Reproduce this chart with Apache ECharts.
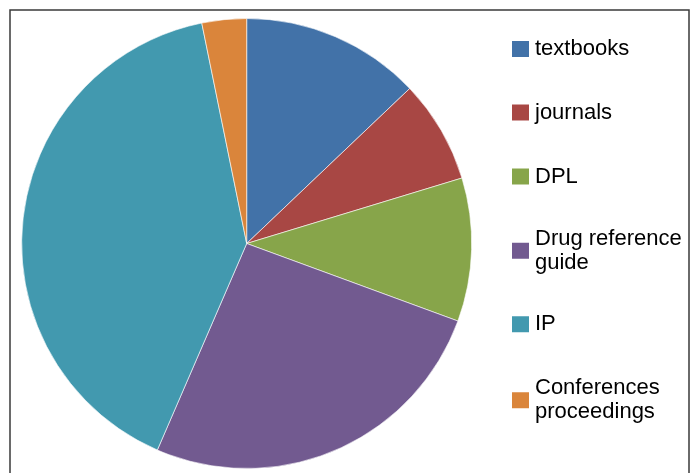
<!DOCTYPE html>
<html><head><meta charset="utf-8">
<script src="https://cdn.jsdelivr.net/npm/echarts@6/dist/echarts.min.js"></script>
<style>html,body{margin:0;padding:0;background:#fff}#c{width:691px;height:473px}</style>
</head><body><div id="c"></div>
<script>
const categories = ['textbooks', 'journals', 'DPL', 'Drug reference\nguide', 'IP', 'Conferences\nproceedings'];
const values = [12.9, 7.4, 10.3, 25.9, 40.3, 3.2];
const colors = ['#4272A8', '#A84744', '#87A54A', '#725A90', '#4299AF', '#DA853B'];
const legendCenters = [49, 112.5, 176.5, 238.7, 324.2, 388.2];

const chart = echarts.init(document.getElementById('c'));
const legends = categories.map((name, i) => {
  const multi = name.indexOf('\n') >= 0;
  return {
    data: [name],
    left: 510,
    top: legendCenters[i] - (multi ? 24 : 12),
    padding: 0,
    itemWidth: 19,
    itemHeight: 18,
    icon: 'rect',
    selectedMode: false,
    textStyle: {
      fontFamily: 'Liberation Sans, Arial, sans-serif',
      fontSize: 22,
      color: '#000',
      lineHeight: 24,
      padding: multi ? [24, 0, 0, 0] : 0
    }
  };
});
chart.setOption({
  animation: false,
  color: colors,
  legend: legends,
  graphic: [{
    type: 'rect', silent: true,
    shape: { x: 10, y: 10, width: 679, height: 480 },
    style: { fill: 'none', stroke: '#3a3a3a', lineWidth: 1.5 }
  }],
  series: [{
    type: 'pie',
    center: [246.7, 243.5],
    radius: 225,
    startAngle: 90,
    clockwise: true,
    label: { show: false },
    labelLine: { show: false },
    itemStyle: { borderColor: '#ffffff', borderWidth: 0.6 },
    emphasis: { disabled: true },
    data: categories.map((n, i) => ({ name: n, value: values[i] }))
  }]
});
</script></body></html>
